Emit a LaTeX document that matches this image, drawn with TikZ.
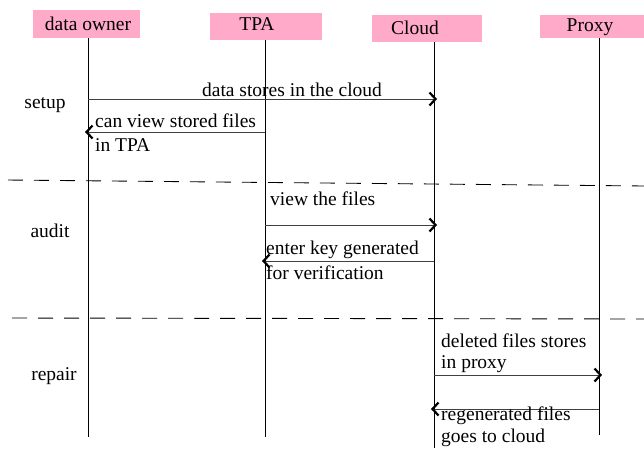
\documentclass[tikz,border=0pt]{standalone}
\usepackage{fontspec}
\setmainfont{Liberation Serif}
\usetikzlibrary{arrows.meta}
\definecolor{hdrpink}{RGB}{255,170,200}
\begin{document}
\begin{tikzpicture}[x=1pt,y=-1pt,
  hdr/.style={fill=hdrpink,inner sep=0pt,anchor=north west},
  txt/.style={font=\fontsize{19.5}{23}\selectfont,inner sep=0pt},
  lbl/.style={txt,anchor=west,align=left},
  life/.style={line width=0.8pt},
  msg/.style={line width=0.9pt,draw=black!75,-{Straight Barb[length=6pt,width=13pt,line width=2.2pt,black]}},
  sep/.style={line width=0.9pt,dash pattern=on 15pt off 11pt}]
\useasboundingbox (0,0) rectangle (644,448);
% headers
\node[hdr,minimum width=107pt,minimum height=28pt] (hO) at (33,10) {};
\node[hdr,minimum width=112pt,minimum height=27pt] (hT) at (210,13) {};
\node[hdr,minimum width=110pt,minimum height=27pt] (hC) at (372,15) {};
\node[hdr,minimum width=104pt,minimum height=23pt] (hP) at (540,15) {};
\node[txt] (tO) at (88,24) {data owner};
\node[txt] (tT) at (257,24) {TPA};
\node[txt] (tC) at (415,28) {Cloud};
\node[txt] (tP) at (590,27) {Proxy};
% lifelines
\coordinate (o1) at (88,38); \coordinate (o2) at (88,437);
\coordinate (t1) at (265,40); \coordinate (t2) at (265,437);
\coordinate (c1) at (434,42); \coordinate (c2) at (434,448);
\coordinate (p1) at (599,38); \coordinate (p2) at (599,435);
\draw[life] (o1) -- (o2);
\draw[life] (t1) -- (t2);
\draw[life] (c1) -- (c2);
\draw[life] (p1) -- (p2);
% phase labels
\node[txt] (ps) at (45,105) {setup};
\node[txt] (pa) at (50,231) {audit};
\node[txt] (pr) at (54,376) {repair};
% separators
\coordinate (s1a) at (8,180); \coordinate (s1b) at (644,186);
\coordinate (s2a) at (12,318); \coordinate (s2b) at (644,319);
\draw[sep] (s1a) -- (s1b);
\draw[sep] (s2a) -- (s2b);
% messages
\coordinate (m1a) at (88,99); \coordinate (m1b) at (437,99);
\draw[msg] (m1a) -- (m1b);
\node[txt] (l1) at (292,90) {data stores in the cloud};
\coordinate (m2a) at (265,132); \coordinate (m2b) at (85,132);
\draw[msg] (m2a) -- (m2b);
\node[lbl] (l2a) at (95,121) {can view stored files};
\node[lbl] (l2b) at (95,145) {in TPA};
\coordinate (m3a) at (265,225); \coordinate (m3b) at (437,225);
\draw[msg] (m3a) -- (m3b);
\node[lbl] (l3) at (270,199) {view the files};
\coordinate (m4a) at (434,261); \coordinate (m4b) at (262,261);
\draw[msg] (m4a) -- (m4b);
\node[lbl] (l4a) at (266,250) {enter key generated};
\node[lbl] (l4b) at (266,273) {for verification};
\coordinate (m5a) at (434,375); \coordinate (m5b) at (602,375);
\draw[msg] (m5a) -- (m5b);
\node[lbl] (l5a) at (441,341) {deleted files stores};
\node[lbl] (l5b) at (441,364) {in proxy};
\coordinate (m6a) at (599,409); \coordinate (m6b) at (431,409);
\draw[msg] (m6a) -- (m6b);
\node[lbl] (l6a) at (441,416) {regenerated files};
\node[lbl] (l6b) at (441,438) {goes to cloud};
\end{tikzpicture}
\end{document}
